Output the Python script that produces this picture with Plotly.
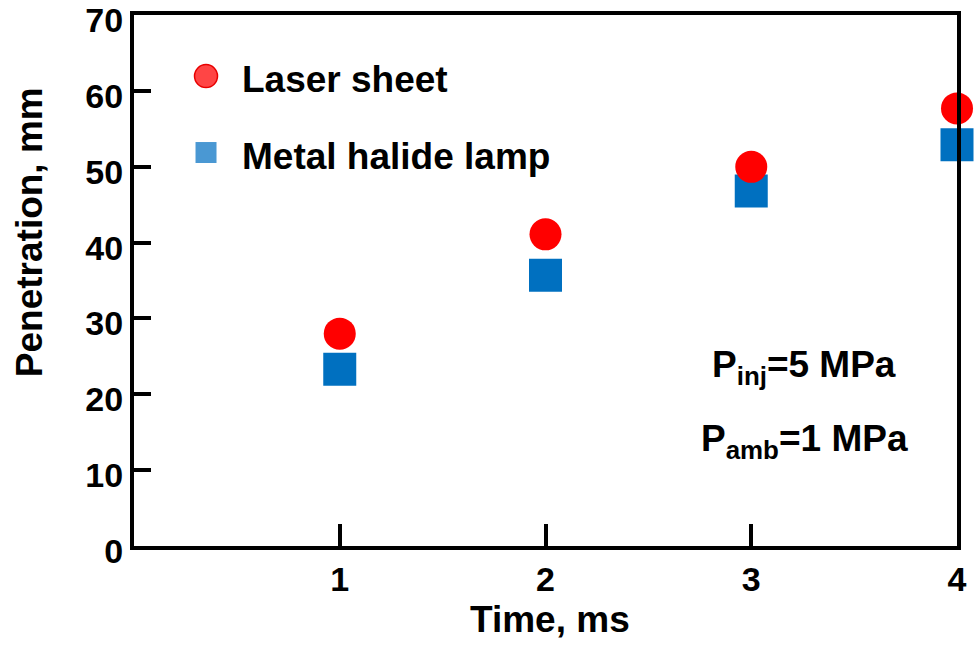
import plotly.graph_objects as go

# Data
time_ms = [1, 2, 3, 4]
laser_sheet = [28.0, 41.1, 50.0, 57.7]
metal_halide = [23.3, 35.7, 46.8, 52.9]
x_ticks = [1, 2, 3, 4]
y_ticks = [0, 10, 20, 30, 40, 50, 60, 70]

FONT = "Liberation Sans, Arial, sans-serif"

fig = go.Figure()
fig.add_trace(go.Scatter(
    x=time_ms, y=metal_halide, mode="markers", name="Metal halide lamp",
    marker=dict(symbol="square", size=33, color="#0070C0", line=dict(width=0)),
    showlegend=False, cliponaxis=False))
fig.add_trace(go.Scatter(
    x=time_ms, y=laser_sheet, mode="markers", name="Laser sheet",
    marker=dict(symbol="circle", size=32, color="#FF0000", line=dict(width=0)),
    showlegend=False, cliponaxis=False))

axis_common = dict(
    showgrid=False, zeroline=False, showline=True, linecolor="black", linewidth=4,
    mirror=True, ticks="inside", tickcolor="black", tickwidth=4, automargin=False,
    tickfont=dict(family=FONT, size=34, color="black", weight="bold"),
)

fig.update_xaxes(range=[0, 4], tickvals=x_ticks, ticklen=22, **axis_common)
fig.update_yaxes(range=[0, 70.02], tickvals=y_ticks, ticklen=17,
                 ticklabeloverflow="allow", ticklabelshift=5, **axis_common)

# legend (manual)
fig.add_shape(type="circle", xref="paper", yref="paper", xsizemode="pixel", ysizemode="pixel",
              xanchor=0.0875, yanchor=0.885, x0=-11.5, x1=11.5, y0=-11.5, y1=11.5,
              fillcolor="#FF4545", line=dict(color="#E80000", width=1.5))
fig.add_shape(type="rect", xref="paper", yref="paper", xsizemode="pixel", ysizemode="pixel",
              xanchor=0.0875, yanchor=0.741, x0=-10.5, x1=10.5, y0=-10.5, y1=10.5,
              fillcolor="#4A98D3", line=dict(width=0))

txt = dict(family=FONT, size=37, color="black", weight="bold")
fig.add_annotation(text="Laser sheet", xref="paper", yref="paper", x=0.1288, y=0.8776,
                   xanchor="left", yanchor="middle", showarrow=False, font=txt)
fig.add_annotation(text="Metal halide lamp", xref="paper", yref="paper", x=0.1288, y=0.7326,
                   xanchor="left", yanchor="middle", showarrow=False, font=txt)
fig.add_annotation(text="P<sub>inj</sub>=5 MPa", xref="paper", yref="paper", x=0.8145, y=0.338,
                   xanchor="center", yanchor="middle", showarrow=False, font=txt)
fig.add_annotation(text="P<sub>amb</sub>=1 MPa", xref="paper", yref="paper", x=0.8145, y=0.197,
                   xanchor="center", yanchor="middle", showarrow=False, font=txt)
fig.add_annotation(text="Penetration, mm", xref="paper", yref="paper", x=-0.1276, y=0.591,
                   xanchor="center", yanchor="middle", textangle=-90, showarrow=False, font=txt)
fig.add_annotation(text="Time, ms", xref="paper", yref="paper", x=0.5055, y=-0.1375,
                   xanchor="center", yanchor="middle", showarrow=False, font=txt)

fig.update_layout(
    width=974, height=645,
    margin=dict(l=134, r=17, t=15, b=99, autoexpand=False),
    plot_bgcolor="white", paper_bgcolor="white",
    showlegend=False,
)

fig.write_html("out.html")
